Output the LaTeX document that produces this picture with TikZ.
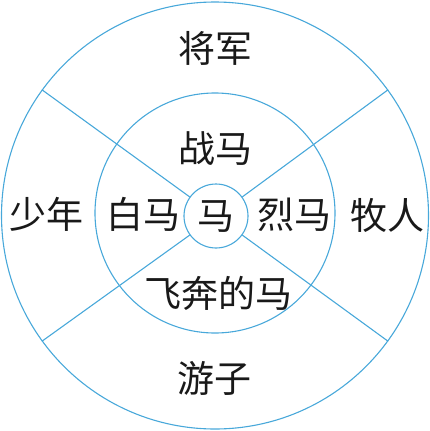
\documentclass[tikz,border=0pt]{standalone}
\usepackage{fontspec}
\setmainfont{Noto Sans CJK SC}
\usepackage{tikz}
\usetikzlibrary{positioning}
\definecolor{ringblue}{RGB}{72,168,218}
\tikzset{
  ring/.style={circle, draw=ringblue, line width=1.1bp, inner sep=0pt},
  spoke/.style={draw=ringblue, line width=1.1bp},
  word/.style={font=\fontsize{37bp}{37bp}\selectfont, text=black!90, inner sep=0pt}
}
\begin{document}
\begin{tikzpicture}[x=1bp, y=-1bp]
        \useasboundingbox (0,0) rectangle (430,431);
        \node (rim) [ring, minimum size=427bp] at (215,215.5) {};
        \node (mid) [ring, minimum size=240bp] at (215,213) {};
        \node (hub) [ring, minimum size=64bp, word] at (216,216) {马};

        \node (general) [word] at (215,48) {将军};
        \node (warhorse) [word] at (215,149) {战马};
        \node (youth) [word] at (46,214) {少年};
        \node (white) [word] at (143,214) {白马};
        \node (fierce) [word] at (294,215) {烈马};
        \node (herder) [word] at (387,215) {牧人};
        \node (galloping) [word] at (219,293) {飞奔的马};
        \node (wanderer) [word] at (214,378) {游子};

        \draw [spoke] (hub.36) -- (rim.36);
        \draw [spoke] (hub.144) -- (rim.144);
        \draw [spoke] (hub.216) -- (rim.216);
        \draw [spoke] (hub.324) -- (rim.324);
\end{tikzpicture}
\end{document}
